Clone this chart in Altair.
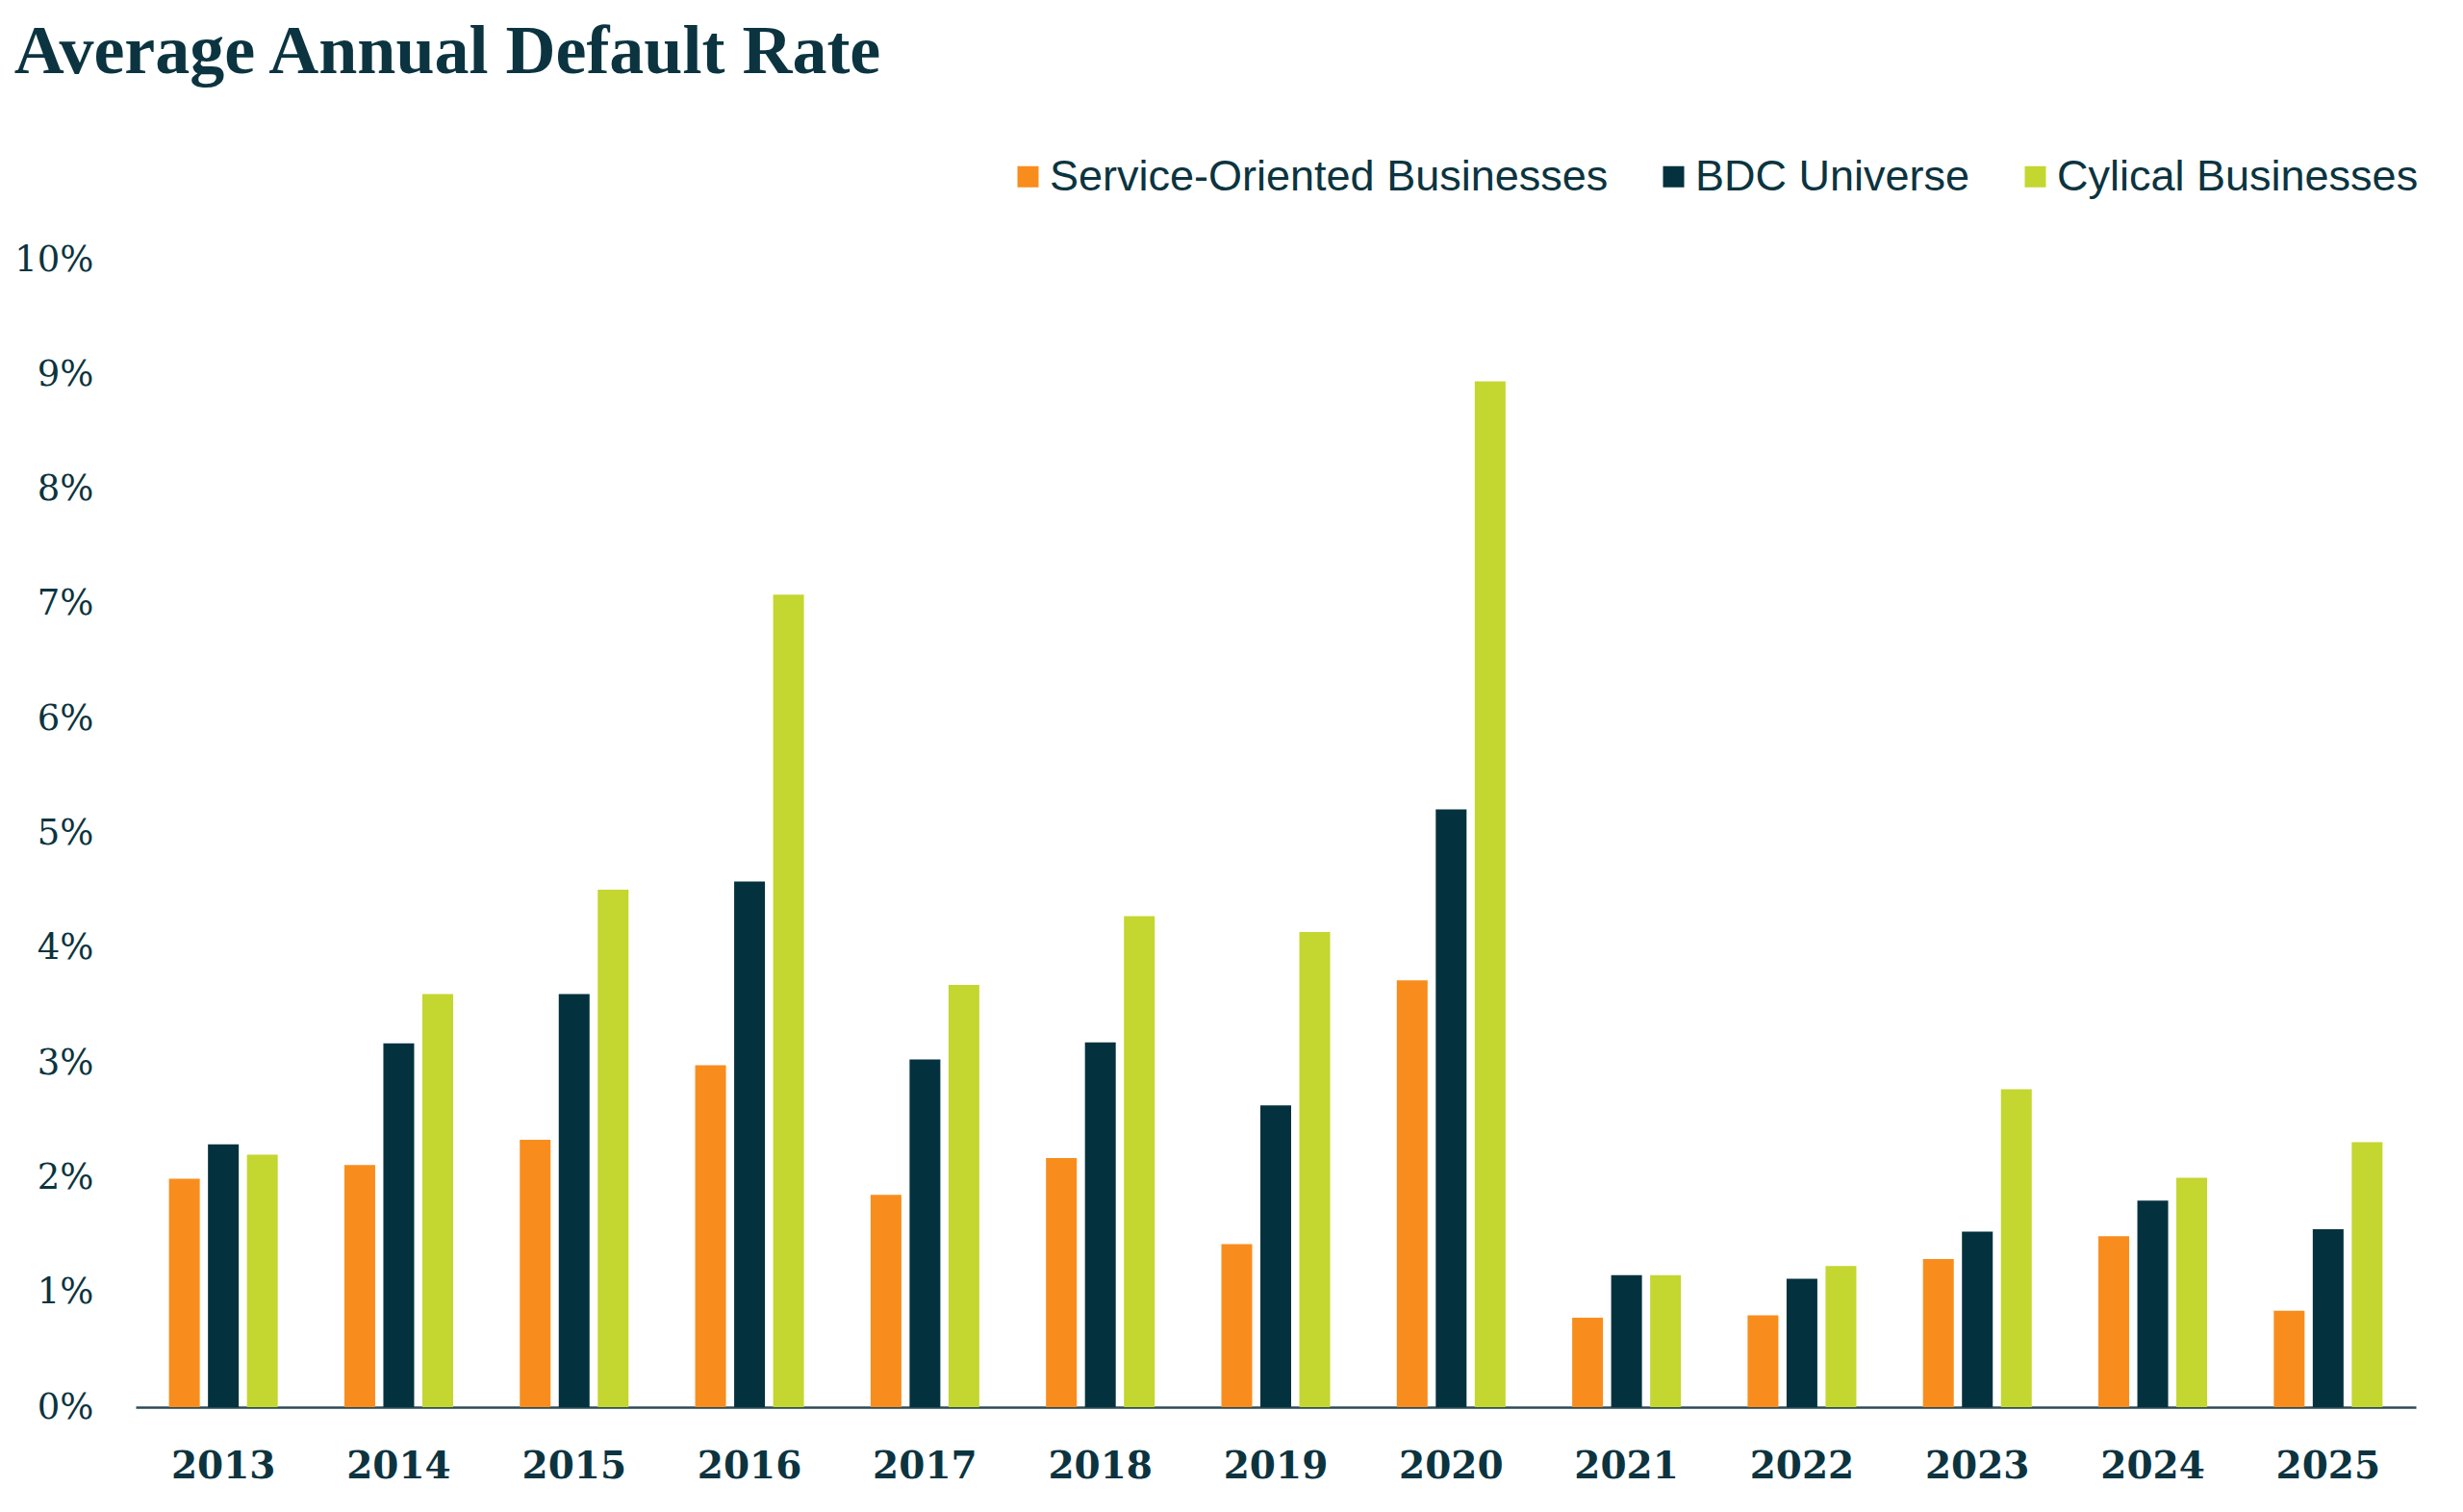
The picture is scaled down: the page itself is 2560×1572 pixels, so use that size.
import altair as alt
import pandas as pd

years = ["2013", "2014", "2015", "2016", "2017", "2018", "2019",
         "2020", "2021", "2022", "2023", "2024", "2025"]
series_names = ["Service-Oriented Businesses", "BDC Universe", "Cylical Businesses"]
service = [1.99, 2.11, 2.33, 2.98, 1.85, 2.17, 1.42, 3.72, 0.78, 0.80, 1.29, 1.49, 0.84]
bdc = [2.29, 3.17, 3.60, 4.58, 3.03, 3.18, 2.63, 5.21, 1.15, 1.12, 1.53, 1.80, 1.55]
cyclical = [2.20, 3.60, 4.51, 7.08, 3.68, 4.28, 4.14, 8.94, 1.15, 1.23, 2.77, 2.00, 2.31]
colors = ["#F88D1E", "#03323E", "#C4D630"]
y_ticks = [0, 1, 2, 3, 4, 5, 6, 7, 8, 9, 10]

rows = []
for name, vals in zip(series_names, [service, bdc, cyclical]):
    for yr, v in zip(years, vals):
        rows.append({"year": yr, "series": name, "value": v})
df = pd.DataFrame(rows)

TEXT = "#0B3440"

chart = alt.Chart(df).mark_bar().encode(
    x=alt.X("year:N", sort=years,
            scale=alt.Scale(paddingInner=0.38, paddingOuter=0.19),
            axis=alt.Axis(title=None, labelAngle=0, labelFont="DejaVu Serif",
                          labelFontWeight="bold", labelFontSize=39, labelColor=TEXT,
                          labelPadding=42, ticks=False, domainColor="#2E4A55",
                          domainWidth=2.5)),
    xOffset=alt.XOffset("series:N", sort=series_names,
                        scale=alt.Scale(paddingInner=0.21, paddingOuter=0)),
    y=alt.Y("value:Q", scale=alt.Scale(domain=[0, 10], nice=False),
            axis=alt.Axis(title=None, values=y_ticks, labelExpr="datum.value + '%'",
                          grid=False, domain=False, ticks=False,
                          labelFont="DejaVu Serif", labelFontSize=37,
                          labelColor=TEXT, labelPadding=44)),
    color=alt.Color("series:N", sort=series_names,
                    scale=alt.Scale(domain=series_names, range=colors),
                    legend=alt.Legend(title=None, orient="none", legendX=905, legendY=-109,
                                      direction="horizontal", symbolType="square",
                                      symbolSize=484, symbolStrokeWidth=0,
                                      labelFont="Liberation Sans", labelFontSize=45,
                                      labelColor=TEXT, labelOffset=0,
                                      columnPadding=45, labelLimit=1000)),
).properties(
    width=2370,
    height=1193,
    padding={"left": 6, "top": 10, "right": 0, "bottom": 0},
    title=alt.Title("Average Annual Default Rate", anchor="start", frame="bounds",
                    font="Liberation Serif", fontSize=72, fontWeight="bold",
                    color=TEXT, offset=70),
).configure(background="white").configure_view(strokeWidth=0)

chart.save("out.html", embed_options={"renderer": "svg", "actions": False})
